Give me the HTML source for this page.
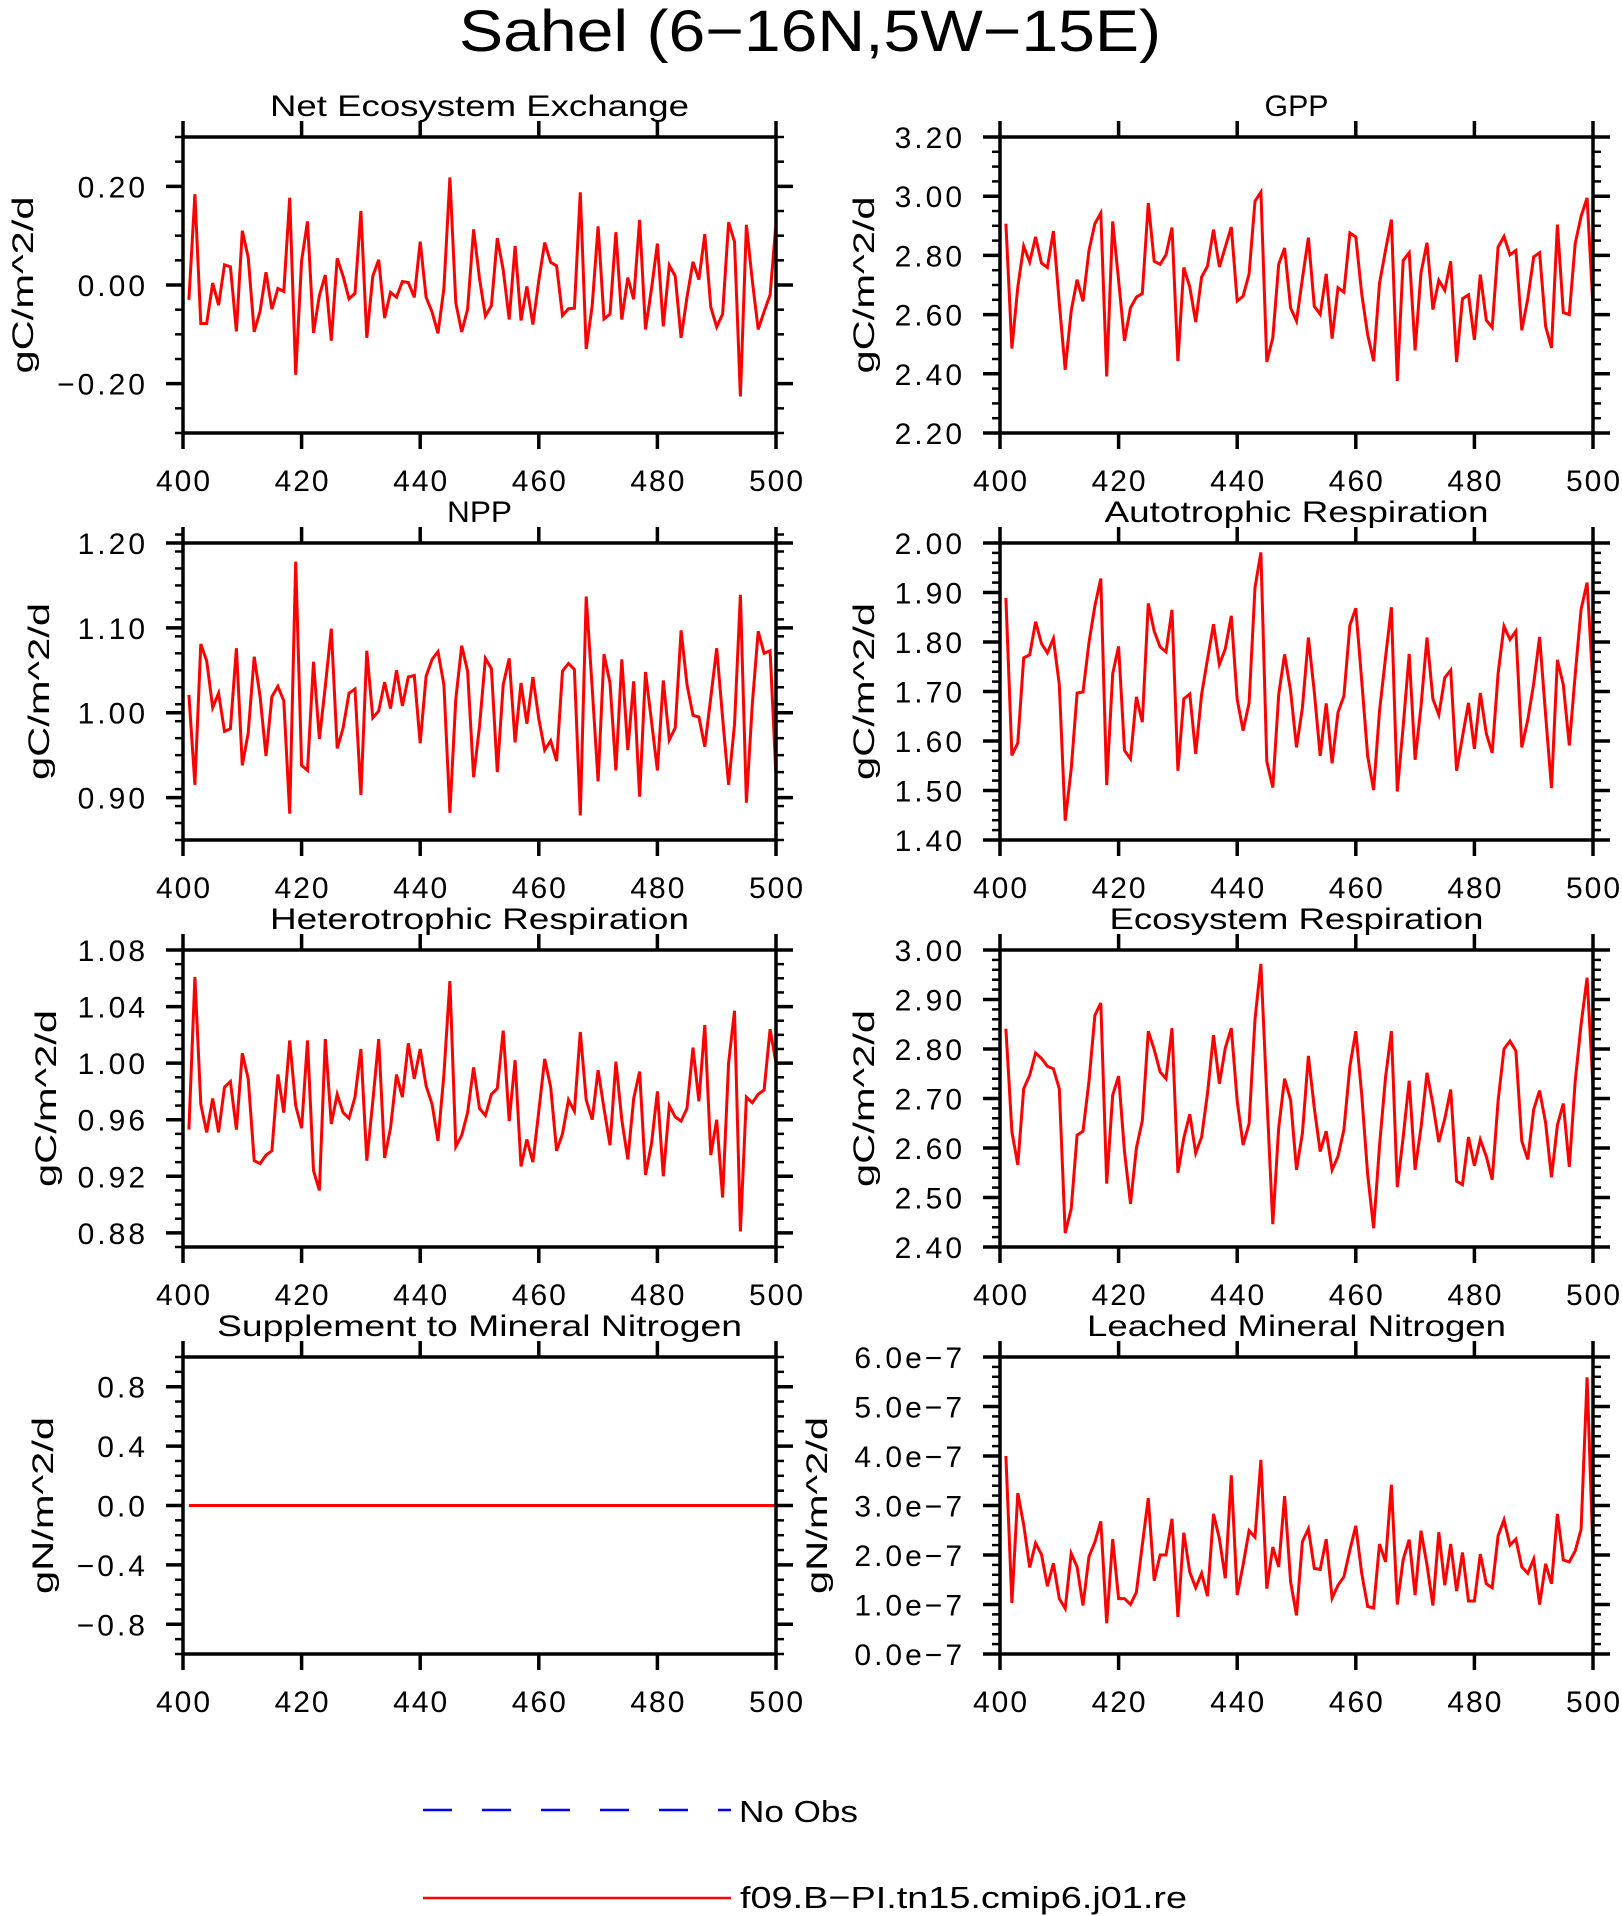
<!DOCTYPE html>
<html><head><meta charset="utf-8"><title>Sahel (6-16N,5W-15E)</title>
<style>
html,body{margin:0;padding:0;background:#fff;}
svg{display:block;font-family:"Liberation Sans","DejaVu Sans",sans-serif;}
</style></head>
<body>
<svg id="chart" xmlns="http://www.w3.org/2000/svg" width="1622" height="1916" viewBox="0 0 1622 1916">
<rect x="0" y="0" width="1622" height="1916" fill="#fff"/>
<text x="810" y="51" font-size="58" text-anchor="middle" textLength="702" lengthAdjust="spacingAndGlyphs">Sahel (6−16N,5W−15E)</text>
<g>
<line x1="423" y1="1810" x2="731" y2="1810" stroke="#0000ff" stroke-width="2.5" stroke-dasharray="29 30"/>
<text x="739" y="1822" font-size="31" textLength="119" lengthAdjust="spacingAndGlyphs">No Obs</text>
<line x1="423" y1="1898" x2="731" y2="1898" stroke="#ff0000" stroke-width="2.5"/>
<text x="740" y="1908" font-size="31" textLength="447" lengthAdjust="spacingAndGlyphs">f09.B−PI.tn15.cmip6.j01.re</text>
</g>
</svg>
<script>
const years = [];
for (let y = 401; y <= 500; y++) years.push(y);
const xTicks = [400, 420, 440, 460, 480, 500];

const neeValues = [-0.030,0.184,-0.078,-0.078,0.004,-0.041,0.041,0.037,-0.094,0.110,
0.056,-0.095,-0.053,0.026,-0.049,-0.007,-0.013,0.177,-0.182,0.049,
0.129,-0.097,-0.021,0.020,-0.113,0.054,0.018,-0.028,-0.017,0.150,
-0.107,0.018,0.051,-0.067,-0.015,-0.025,0.007,0.005,-0.025,0.088,
-0.025,-0.055,-0.098,-0.007,0.218,-0.036,-0.095,-0.049,0.113,0.013,
-0.063,-0.042,0.095,0.031,-0.070,0.079,-0.072,-0.003,-0.080,0.009,
0.086,0.046,0.039,-0.062,-0.048,-0.047,0.188,-0.130,-0.042,0.119,
-0.069,-0.059,0.107,-0.070,0.015,-0.029,0.132,-0.090,-0.008,0.084,
-0.084,0.040,0.018,-0.107,-0.025,0.047,0.011,0.103,-0.045,-0.085,
-0.059,0.127,0.088,-0.226,0.122,0.009,-0.090,-0.054,-0.020,0.125];
const neeTicks = [-0.2, 0.0, 0.2];
const neeTickLabels = ["−0.20", "0.00", "0.20"];

const gppValues = [2.907,2.485,2.693,2.831,2.778,2.862,2.774,2.759,2.882,2.639,
2.414,2.612,2.718,2.645,2.817,2.907,2.943,2.391,2.915,2.716,
2.511,2.623,2.659,2.671,2.977,2.780,2.770,2.802,2.894,2.443,
2.759,2.693,2.575,2.727,2.764,2.887,2.761,2.828,2.896,2.646,
2.662,2.738,2.983,3.014,2.440,2.522,2.770,2.825,2.623,2.578,
2.721,2.860,2.628,2.601,2.738,2.519,2.691,2.676,2.876,2.862,
2.671,2.532,2.443,2.705,2.817,2.921,2.376,2.783,2.809,2.479,
2.741,2.843,2.617,2.716,2.682,2.780,2.440,2.654,2.667,2.515,
2.735,2.581,2.556,2.828,2.864,2.802,2.817,2.547,2.654,2.795,
2.809,2.561,2.488,2.904,2.607,2.600,2.840,2.932,2.994,2.626];
const gppTicks = [2.2, 2.4, 2.6, 2.8, 3.0, 3.2];
const gppTickLabels = ["2.20", "2.40", "2.60", "2.80", "3.00", "3.20"];

const nppValues = [1.021,0.915,1.081,1.061,1.006,1.023,0.978,0.981,1.076,0.938,
0.976,1.066,1.019,0.949,1.019,1.031,1.014,0.881,1.178,0.938,
0.932,1.060,0.969,1.031,1.099,0.958,0.982,1.023,1.028,0.903,
1.073,0.994,1.002,1.036,1.005,1.050,1.008,1.042,1.044,0.964,
1.043,1.063,1.072,1.033,0.882,1.016,1.079,1.049,0.924,0.984,
1.064,1.052,0.930,1.033,1.064,0.965,1.035,0.987,1.042,0.993,
0.956,0.967,0.943,1.049,1.058,1.051,0.879,1.137,1.029,0.919,
1.069,1.035,0.932,1.063,0.956,1.037,0.901,1.048,0.990,0.932,
1.038,0.968,0.982,1.097,1.033,0.997,0.995,0.960,1.018,1.076,
0.994,0.915,0.986,1.139,0.894,1.010,1.096,1.070,1.073,0.925];
const nppTicks = [0.9, 1.0, 1.1, 1.2];
const nppTickLabels = ["0.90", "1.00", "1.10", "1.20"];

const arValues = [1.889,1.571,1.596,1.768,1.774,1.841,1.797,1.778,1.807,1.714,
1.439,1.543,1.697,1.699,1.799,1.873,1.928,1.511,1.736,1.791,
1.581,1.564,1.689,1.638,1.878,1.822,1.790,1.780,1.865,1.540,
1.685,1.695,1.574,1.694,1.765,1.836,1.755,1.786,1.853,1.684,
1.621,1.677,1.910,1.981,1.559,1.506,1.694,1.775,1.701,1.587,
1.667,1.809,1.699,1.570,1.676,1.555,1.658,1.691,1.834,1.868,
1.722,1.569,1.501,1.660,1.768,1.870,1.498,1.630,1.776,1.562,
1.670,1.809,1.685,1.653,1.728,1.743,1.540,1.609,1.677,1.584,
1.697,1.615,1.576,1.736,1.832,1.805,1.822,1.587,1.643,1.716,
1.810,1.653,1.505,1.764,1.714,1.591,1.734,1.866,1.920,1.711];
const arTicks = [1.4, 1.5, 1.6, 1.7, 1.8, 1.9, 2.0];
const arTickLabels = ["1.40", "1.50", "1.60", "1.70", "1.80", "1.90", "2.00"];

const hrValues = [0.953,1.061,0.971,0.951,0.975,0.951,0.983,0.987,0.953,1.007,
0.989,0.931,0.929,0.935,0.938,0.992,0.965,1.016,0.970,0.954,
1.016,0.924,0.910,1.017,0.957,0.978,0.965,0.961,0.976,1.010,
0.931,0.973,1.017,0.933,0.954,0.992,0.976,1.014,0.989,1.010,
0.984,0.971,0.945,0.992,1.058,0.941,0.949,0.965,0.997,0.968,
0.963,0.978,0.982,1.023,0.959,1.002,0.927,0.946,0.930,0.966,
1.003,0.983,0.938,0.950,0.974,0.966,1.022,0.974,0.960,0.995,
0.968,0.942,1.001,0.960,0.932,0.975,0.994,0.921,0.943,0.980,
0.920,0.970,0.962,0.959,0.968,1.011,0.973,1.027,0.935,0.960,
0.905,1.000,1.037,0.881,0.976,0.972,0.978,0.981,1.024,1.000];
const hrTicks = [0.88, 0.92, 0.96, 1.00, 1.04, 1.08];
const hrTickLabels = ["0.88", "0.92", "0.96", "1.00", "1.04", "1.08"];

const erValues = [2.841,2.633,2.566,2.720,2.747,2.792,2.781,2.765,2.760,2.720,
2.428,2.477,2.626,2.634,2.735,2.868,2.893,2.528,2.707,2.745,
2.593,2.487,2.600,2.655,2.836,2.799,2.754,2.740,2.842,2.550,
2.620,2.668,2.590,2.622,2.710,2.828,2.730,2.802,2.842,2.695,
2.606,2.649,2.860,2.972,2.705,2.446,2.641,2.740,2.697,2.556,
2.630,2.786,2.681,2.593,2.634,2.556,2.583,2.637,2.765,2.836,
2.708,2.546,2.438,2.604,2.742,2.836,2.521,2.622,2.736,2.556,
2.641,2.752,2.688,2.612,2.659,2.718,2.533,2.526,2.622,2.564,
2.617,2.583,2.536,2.695,2.800,2.816,2.796,2.614,2.577,2.678,
2.716,2.651,2.541,2.646,2.690,2.562,2.735,2.850,2.944,2.725];
const erTicks = [2.4, 2.5, 2.6, 2.7, 2.8, 2.9, 3.0];
const erTickLabels = ["2.40", "2.50", "2.60", "2.70", "2.80", "2.90", "3.00"];

const supValues = [0,0,0,0,0,0,0,0,0,0, 0,0,0,0,0,0,0,0,0,0, 0,0,0,0,0,0,0,0,0,0, 0,0,0,0,0,0,0,0,0,0, 0,0,0,0,0,0,0,0,0,0,
0,0,0,0,0,0,0,0,0,0, 0,0,0,0,0,0,0,0,0,0, 0,0,0,0,0,0,0,0,0,0, 0,0,0,0,0,0,0,0,0,0, 0,0,0,0,0,0,0,0,0,0];
const supTicks = [-0.8, -0.4, 0.0, 0.4, 0.8];
const supTickLabels = ["−0.8", "−0.4", "0.0", "0.4", "0.8"];

// leached mineral nitrogen, units of 1e-7 gN/m^2/d
const leachValues = [4.00,1.03,3.25,2.61,1.75,2.24,2.01,1.37,1.83,1.12,
0.92,2.03,1.76,0.98,1.97,2.26,2.68,0.62,2.32,1.12,
1.12,1.00,1.25,2.20,3.15,1.48,2.00,2.00,2.73,0.75,
2.45,1.65,1.34,1.63,1.17,2.83,2.33,1.53,3.61,1.19,
1.80,2.49,2.36,3.92,1.32,2.16,1.76,3.19,1.46,0.78,
2.27,2.53,1.73,1.71,2.32,1.13,1.39,1.56,2.10,2.59,
1.63,0.96,0.93,2.22,1.86,3.42,1.00,1.91,2.31,1.19,
2.49,1.80,0.98,2.46,1.39,2.22,1.27,2.05,1.07,1.07,
2.02,1.42,1.34,2.39,2.71,2.20,2.32,1.76,1.63,1.92,
1.00,1.82,1.42,2.83,1.90,1.86,2.08,2.52,5.59,2.03];
const leachTicks = [0, 1, 2, 3, 4, 5, 6];
const leachTickLabels = ["0.0e−7", "1.0e−7", "2.0e−7", "3.0e−7", "4.0e−7", "5.0e−7", "6.0e−7"];

const NS = "http://www.w3.org/2000/svg";
const svg = document.getElementById("chart");
function mk(tag, attrs, parent) {
  const e = document.createElementNS(NS, tag);
  for (const k in attrs) e.setAttribute(k, attrs[k]);
  parent.appendChild(e);
  return e;
}

function drawPanel(p) {
  const g = mk("g", {}, svg);
  
  
  const X = v => p.x0 + (v - 400) / 100 * (p.x1 - p.x0);
  const Y = v => p.y1 - (v - p.ymin) / (p.ymax - p.ymin) * (p.y1 - p.y0);

  // minor y ticks (left & right, outward)
  const nMinor = Math.round((p.ymax - p.ymin) / p.minor);
  for (let i = 0; i <= nMinor; i++) {
    const v = p.ymin + i * p.minor;
    const yy = Y(v);
    const tl = mk("line", {x1: p.x0 - 8, y1: yy, x2: p.x0, y2: yy, stroke: "#000", "stroke-width": 2.5}, g);
    
    
    const tr = mk("line", {x1: p.x1, y1: yy, x2: p.x1 + 8, y2: yy, stroke: "#000", "stroke-width": 2.5}, g);
    
    
  }
  // major y ticks and labels
  p.ticks.forEach((v, i) => {
    const yy = Y(v);
    const tl = mk("line", {x1: p.x0 - 17, y1: yy, x2: p.x0, y2: yy, stroke: "#000", "stroke-width": 3.5}, g);
    
    
    const tr = mk("line", {x1: p.x1, y1: yy, x2: p.x1 + 17, y2: yy, stroke: "#000", "stroke-width": 3.5}, g);
    
    
    const t = mk("text", {x: p.x0 - 35, y: yy + 11, "font-size": 30, "text-anchor": "end", "letter-spacing": "3"}, g);
    t.textContent = p.labels[i];
    
    
  });
  // x ticks (top & bottom outward) and labels
  xTicks.forEach(v => {
    const xx = X(v);
    const tb = mk("line", {x1: xx, y1: p.y1, x2: xx, y2: p.y1 + 16, stroke: "#000", "stroke-width": 3.5}, g);
    
    
    const tt = mk("line", {x1: xx, y1: p.y0 - 16, x2: xx, y2: p.y0, stroke: "#000", "stroke-width": 3.5}, g);
    
    
    const t = mk("text", {x: xx + 1, y: p.y1 + 58, "font-size": 30, "text-anchor": "middle", "letter-spacing": "2"}, g);
    t.textContent = String(v);
    
    
  });
  // series line
  const pts = p.values.map((v, i) => X(years[i]).toFixed(1) + "," + Y(v).toFixed(1)).join(" ");
  const line = mk("polyline", {points: pts, fill: "none", stroke: "#ff0000", "stroke-width": 3, "stroke-linejoin": "miter"}, g);
  
  
  // frame
  const fr = mk("rect", {x: p.x0, y: p.y0, width: p.x1 - p.x0, height: p.y1 - p.y0, fill: "none", stroke: "#000", "stroke-width": 3.5}, g);
  
  
  // title
  const ti = mk("text", {x: (p.x0 + p.x1) / 2, y: p.y0 - 21, "font-size": 30, "text-anchor": "middle", textLength: p.titleLen, lengthAdjust: "spacingAndGlyphs"}, g);
  ti.textContent = p.title;
  
  
  // y-axis title
  const cy = (p.y0 + p.y1) / 2;
  const yt = mk("text", {x: p.ylx, y: cy, "font-size": 30, "text-anchor": "middle", textLength: 177, lengthAdjust: "spacingAndGlyphs", transform: "rotate(-90 " + p.ylx + " " + cy + ")"}, g);
  yt.textContent = p.yTitle;
  
  
}

const L = [183, 776], R = [1000, 1593];
const rows = [[137, 433], [543, 840], [950, 1247], [1357, 1654]];

drawPanel({name: "nee", title: "Net Ecosystem Exchange", titleLen: 419, x0: L[0], x1: L[1], y0: rows[0][0], y1: rows[0][1], ymin: -0.3, ymax: 0.3, minor: 0.05, ticks: neeTicks, labels: neeTickLabels, values: neeValues, yTitle: "gC/m^2/d", ylx: 33});
drawPanel({name: "gpp", title: "GPP", titleLen: 64, x0: R[0], x1: R[1], y0: rows[0][0], y1: rows[0][1], ymin: 2.2, ymax: 3.2, minor: 0.05, ticks: gppTicks, labels: gppTickLabels, values: gppValues, yTitle: "gC/m^2/d", ylx: 874});
drawPanel({name: "npp", title: "NPP", titleLen: 65, x0: L[0], x1: L[1], y0: rows[1][0], y1: rows[1][1], ymin: 0.85, ymax: 1.20, minor: 0.02, ticks: nppTicks, labels: nppTickLabels, values: nppValues, yTitle: "gC/m^2/d", ylx: 49});
drawPanel({name: "autotrophic-respiration", title: "Autotrophic Respiration", titleLen: 384, x0: R[0], x1: R[1], y0: rows[1][0], y1: rows[1][1], ymin: 1.4, ymax: 2.0, minor: 0.02, ticks: arTicks, labels: arTickLabels, values: arValues, yTitle: "gC/m^2/d", ylx: 874});
drawPanel({name: "heterotrophic-respiration", title: "Heterotrophic Respiration", titleLen: 419, x0: L[0], x1: L[1], y0: rows[2][0], y1: rows[2][1], ymin: 0.87, ymax: 1.08, minor: 0.01, ticks: hrTicks, labels: hrTickLabels, values: hrValues, yTitle: "gC/m^2/d", ylx: 56});
drawPanel({name: "ecosystem-respiration", title: "Ecosystem Respiration", titleLen: 374, x0: R[0], x1: R[1], y0: rows[2][0], y1: rows[2][1], ymin: 2.4, ymax: 3.0, minor: 0.02, ticks: erTicks, labels: erTickLabels, values: erValues, yTitle: "gC/m^2/d", ylx: 874});
drawPanel({name: "supplement-mineral-nitrogen", title: "Supplement to Mineral Nitrogen", titleLen: 525, x0: L[0], x1: L[1], y0: rows[3][0], y1: rows[3][1], ymin: -1.0, ymax: 1.0, minor: 0.1, ticks: supTicks, labels: supTickLabels, values: supValues, yTitle: "gN/m^2/d", ylx: 53});
drawPanel({name: "leached-mineral-nitrogen", title: "Leached Mineral Nitrogen", titleLen: 419, x0: R[0], x1: R[1], y0: rows[3][0], y1: rows[3][1], ymin: 0, ymax: 6, minor: 0.2, ticks: leachTicks, labels: leachTickLabels, values: leachValues, yTitle: "gN/m^2/d", ylx: 827});
</script>
</body></html>
